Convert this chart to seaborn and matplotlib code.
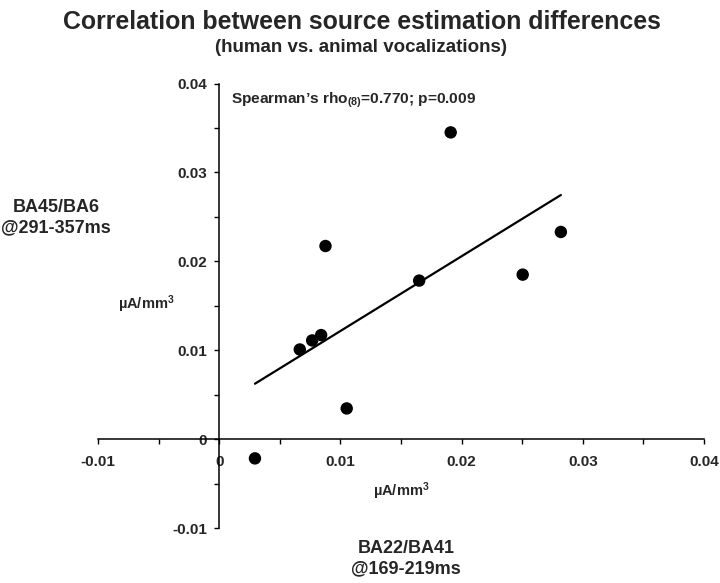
import numpy as np
import pandas as pd
import matplotlib
matplotlib.use("Agg")
import matplotlib.pyplot as plt
import seaborn as sns

# source estimation differences (uA/mm3)
ba22_ba41 = [0.00295, 0.00665, 0.00767, 0.00841, 0.01052, 0.00877, 0.0165, 0.0191, 0.02504, 0.02819]
ba45_ba6 = [-0.00217, 0.01008, 0.0111, 0.0117, 0.00345, 0.02172, 0.01783, 0.0345, 0.0185, 0.0233]

tick_vals = [-0.01, 0, 0.01, 0.02, 0.03, 0.04]
tick_labels = ["-0.01", "0", "0.01", "0.02", "0.03", "0.04"]
minor_vals = [-0.005, 0.005, 0.015, 0.025, 0.035]

sns.set_style("ticks")
plt.rcParams["font.family"] = ["Liberation Sans", "DejaVu Sans"]
plt.rcParams["font.weight"] = "bold"
plt.rcParams["mathtext.fontset"] = "custom"
plt.rcParams["mathtext.rm"] = "Liberation Sans:bold"
plt.rcParams["mathtext.it"] = "Liberation Sans:bold"
plt.rcParams["mathtext.bf"] = "Liberation Sans:bold"

df = pd.DataFrame({"x": ba22_ba41, "y": ba45_ba6})

W, H = 720, 583
fig = plt.figure(figsize=(W / 100, H / 100), dpi=100)
ax = fig.add_axes([98 / W, 1 - 528 / H, 606 / W, 444.5 / H])

sns.regplot(data=df, x="x", y="y", scatter=False, ci=None, color="black",
            line_kws=dict(linewidth=1.6), ax=ax)
sns.scatterplot(data=df, x="x", y="y", color="black", s=80, edgecolor="none", ax=ax)

ax.set_xlim(-0.01, 0.04)
ax.set_ylim(-0.01, 0.04)
ax.set_xlabel("")
ax.set_ylabel("")

for side in ["top", "right"]:
    ax.spines[side].set_visible(False)
ax.spines["left"].set_position(("data", 0))
ax.spines["bottom"].set_position(("data", 0))
for side in ["left", "bottom"]:
    ax.spines[side].set_linewidth(1.1)
    ax.spines[side].set_color("black")

ax.set_xticks(tick_vals)
ax.set_xticklabels(tick_labels)
ax.set_yticks(tick_vals)
ax.set_yticklabels(tick_labels)
ax.set_xticks(minor_vals, minor=True)
ax.set_yticks(minor_vals, minor=True)
ax.tick_params(axis="both", which="both", direction="out", length=3.8, width=1.0, color="black")
ax.tick_params(axis="x", which="major", pad=8, labelsize=11)
ax.tick_params(axis="y", which="major", pad=5, labelsize=11)
for lab in ax.get_xticklabels() + ax.get_yticklabels():
    lab.set_fontweight("bold")

def px(x, y):
    return x / W, 1 - y / H

fig.text(*px(362, 22), "Correlation between source estimation differences",
         ha="center", va="center", fontsize=17.9, fontweight="bold")
fig.text(*px(361, 47), "(human vs. animal vocalizations)",
         ha="center", va="center", fontsize=13.5, fontweight="bold")

fig.text(*px(231, 100), r"Spearman’s rho$_{(8)}$=0.770; p=0.009",
         ha="left", va="center", fontsize=11.1, fontweight="bold")

fig.text(*px(56, 218), "BA45/BA6\n@291-357ms", ha="center", va="center",
         fontsize=13, fontweight="bold", linespacing=1.25)
fig.text(*px(146, 304), r"µA/mm$^{3}$", ha="center", va="center", fontsize=10.5, fontweight="bold")

fig.text(*px(401, 491), r"µA/mm$^{3}$", ha="center", va="center", fontsize=10.5, fontweight="bold")
fig.text(*px(406, 559), "BA22/BA41\n@169-219ms", ha="center", va="center",
         fontsize=13, fontweight="bold", linespacing=1.25)

fig.savefig("out.png", dpi=100)
